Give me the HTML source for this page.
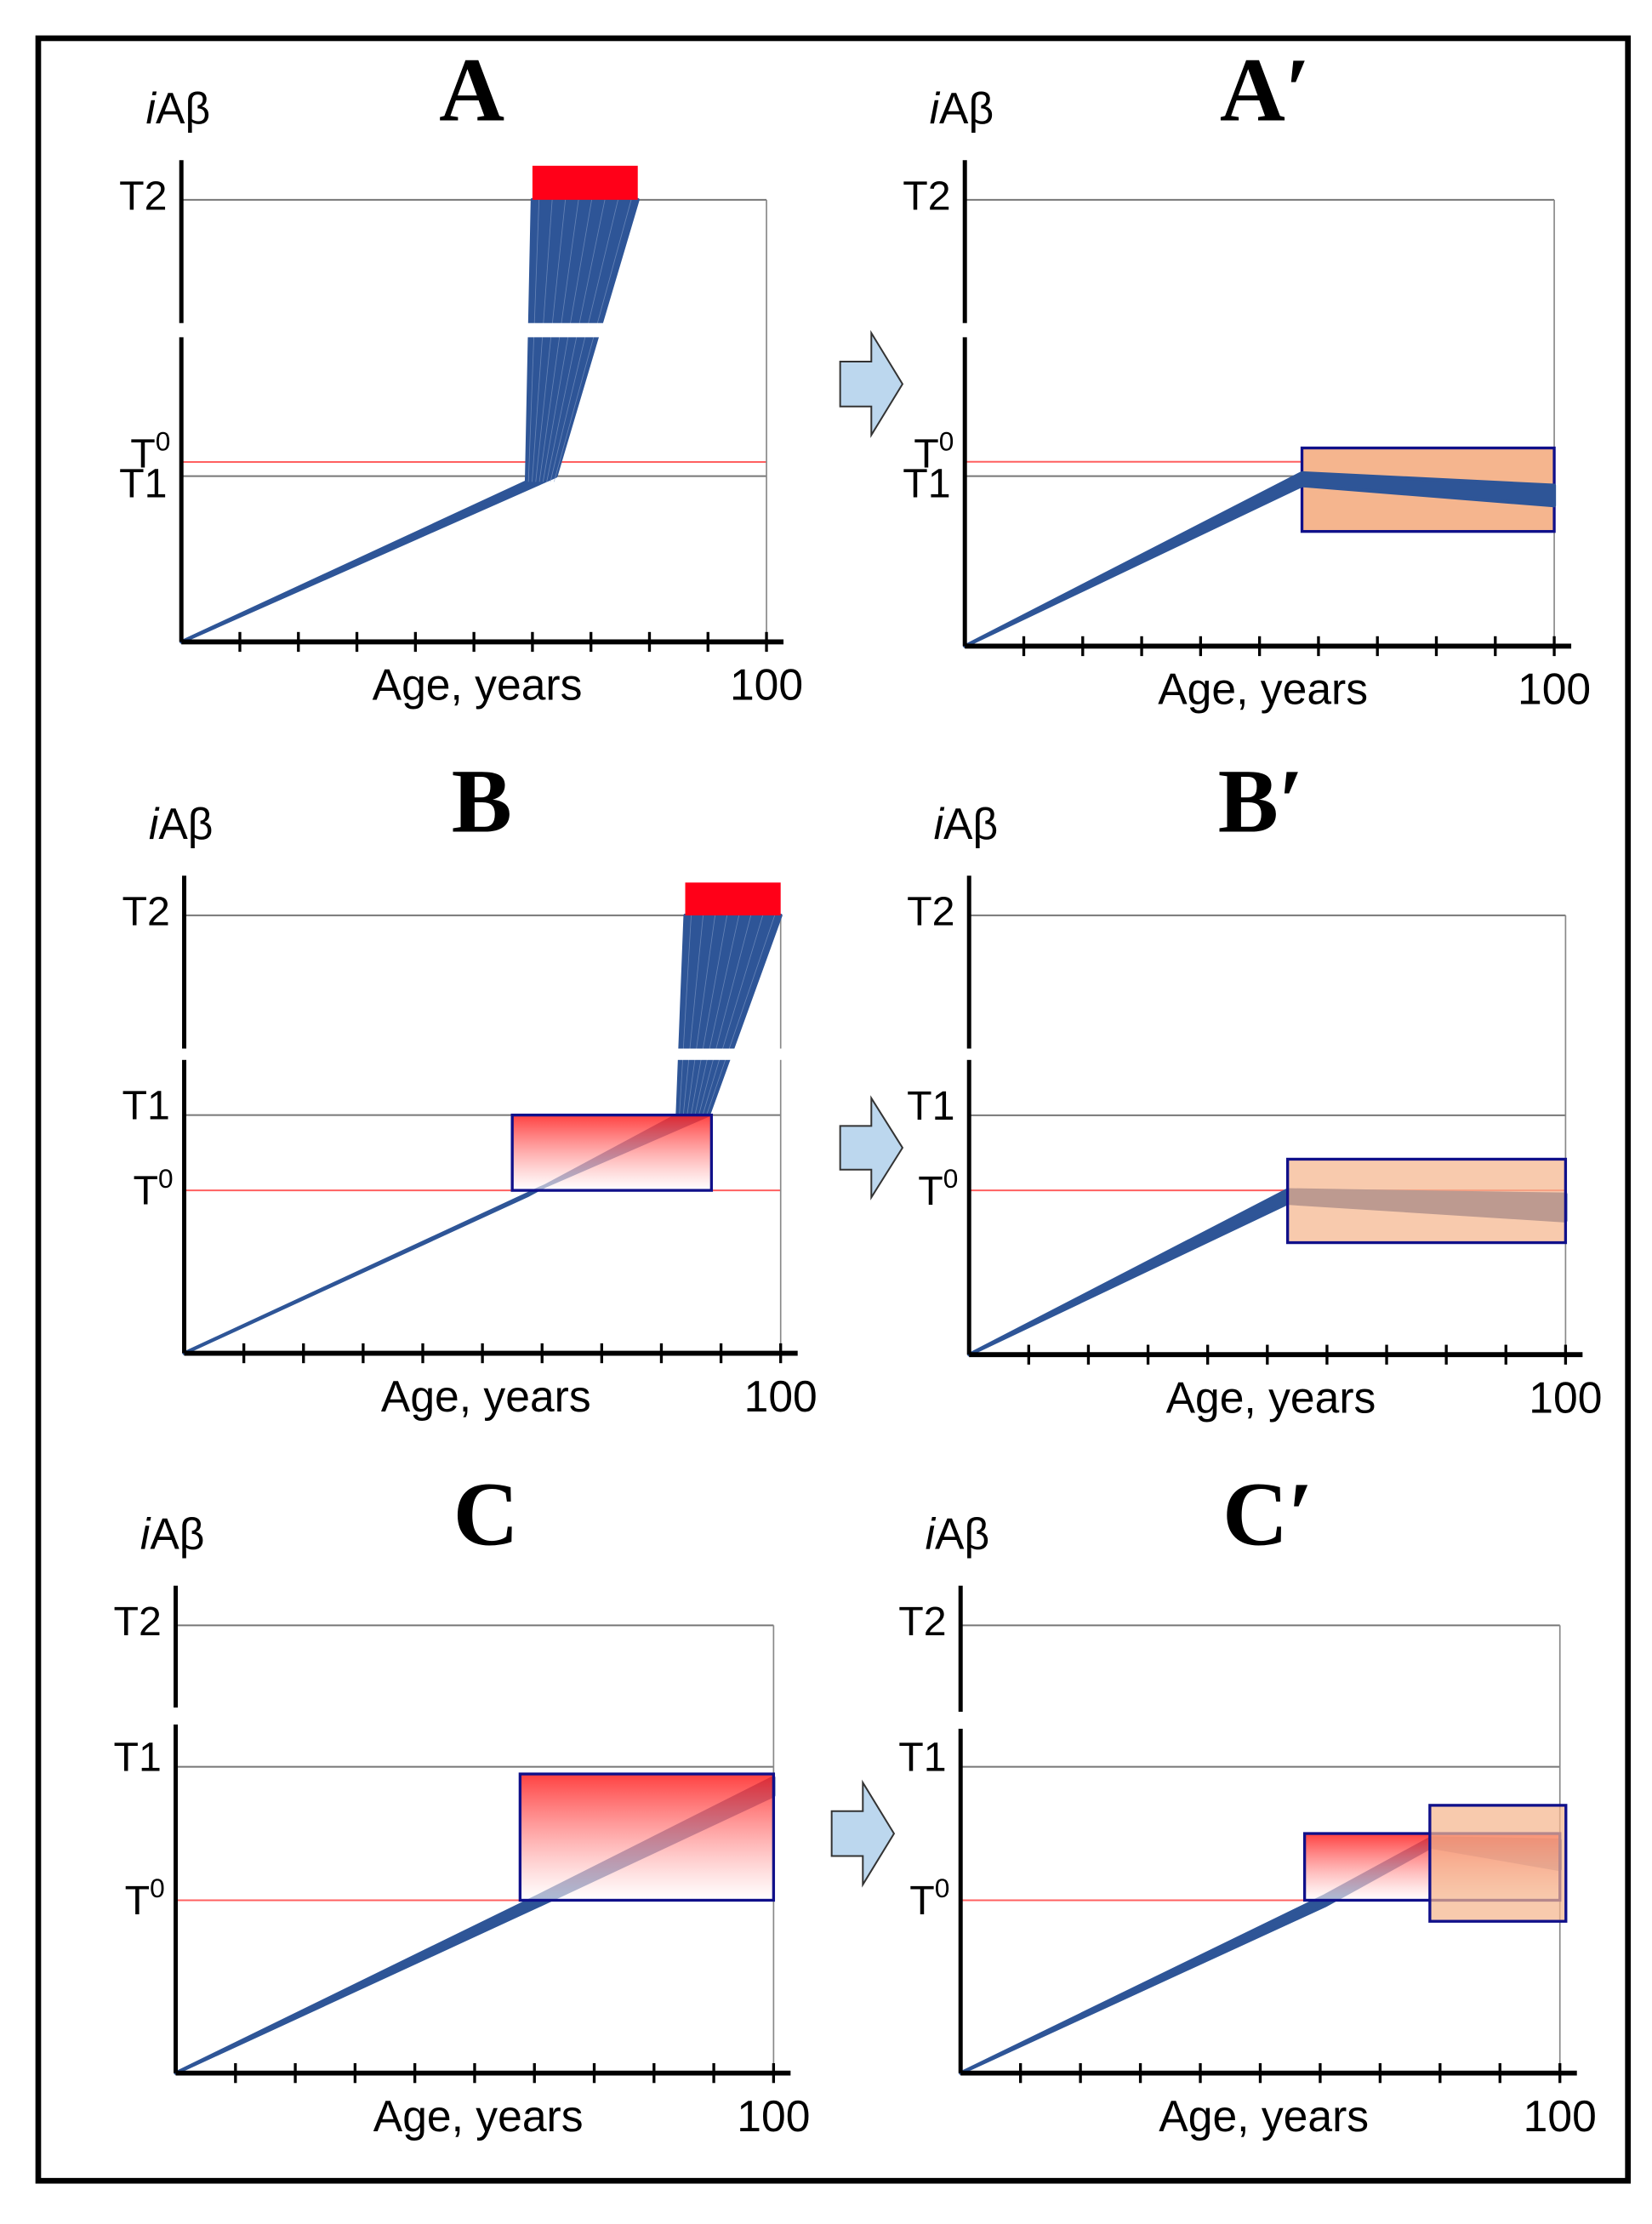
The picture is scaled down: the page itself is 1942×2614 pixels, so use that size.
<!DOCTYPE html>
<html><head><meta charset="utf-8">
<style>
html,body{margin:0;padding:0;background:#fff;}
svg{display:block;}
text{font-family:"Liberation Sans Narrow","Liberation Sans",sans-serif;fill:#000;}
.big{font-family:"Liberation Serif",serif;font-weight:bold;}
</style></head>
<body>
<svg id="fig" width="1942" height="2614" viewBox="0 0 1166 1569.5" xmlns="http://www.w3.org/2000/svg">
<defs>
<linearGradient id="redgrad" x1="0" y1="0" x2="0" y2="1">
<stop offset="0" stop-color="#ff2020" stop-opacity="0.85"/>
<stop offset="1" stop-color="#ffffff" stop-opacity="0.6"/>
</linearGradient>
</defs>
<rect x="27" y="27" width="1122" height="1512" fill="none" stroke="#000" stroke-width="4"/>
<g id="panels"></g>
</svg>
<script>
// Shared axis ticks (ages)
const tickAges = [10,20,30,40,50,60,70,80,90,100];
const thresholdNames = ["T2","T1","T0"];
// Panel layouts (pixel frame) – not data
const frames = {
 A:{ox:128,oy:453,rx:541,ty:141,gap:[228,238],lx:333,ly:85,label:"A"},
 Ap:{ox:681,oy:456,rx:1097,ty:141,gap:[228,238],lx:893,ly:85,label:"A\u2032"},
 B:{ox:130,oy:955,rx:551,ty:646,gap:[740,748],lx:340,ly:587,label:"B"},
 Bp:{ox:684,oy:956,rx:1105,ty:646,gap:[740,748],lx:890,ly:587,label:"B\u2032"},
 C:{ox:124,oy:1463,rx:546,ty:1147,gap:[1205,1217],lx:343,ly:1090,label:"C"},
 Cp:{ox:678,oy:1463,rx:1101,ty:1147,gap:[1208,1220],lx:895,ly:1090,label:"C\u2032"}
};
// Threshold levels (T2=100 scale) per panel: [T2, T1, T0]
const levelsA=[100,37.5,40.7], levelsAp=[100,38.1,41.3];
const levelsB=[100,54.4,37.2], levelsBp=[100,54.5,37.4];
const levelsC=[100,68.4,38.6], levelsCp=[100,68.4,38.6];
// Trajectory points (age, level) – lower and upper edges of each band
const pathA_lo=[[0,0],[59,36.2],[60,100]], pathA_hi=[[0,0],[64,37.5],[78,100]];
const pathAp_lo=[[0,0],[57.2,36.0],[100,31.5]], pathAp_hi=[[0,0],[57.2,38.8],[100,36]];
const pathB_lo=[[0,0],[57.5,36.0],[82.7,54.4],[84,100]], pathB_hi=[[0,0],[59.5,37.6],[87.9,54.4],[100,100]];
const pathBp_lo=[[0,0],[53.4,34.5],[100,30.5]], pathBp_hi=[[0,0],[53.4,37.5],[100,36.5]];
const pathC_lo=[[0,0],[60.7,37.4],[100,62]], pathC_hi=[[0,0],[60.7,39.6],[100,66]];
const pathCp_lo=[[0,0],[60.8,37.4],[78.5,50.5],[100,45.5]], pathCp_hi=[[0,0],[60.8,39.6],[78.5,52.5],[100,52]];
// Red overflow blocks [ageStart, ageEnd, levelBottom, levelTop]
const redA=[60,78,100,107.7], redB=[84,100,100,107.5];
// Gradient (red) boxes [ageStart, ageEnd, levelBottom, levelTop]
const gradB=[55,88.4,37.2,54.4], gradC=[57.6,100,38.6,66.8], gradCp=[57.4,100,38.6,53.5];
// Orange (treatment) boxes
const orangeAp=[57.2,100,25.7,44.4], orangeBp=[53.4,100,25.5,44.5], orangeCp=[78.3,101,33.9,59.8];

const NS="http://www.w3.org/2000/svg";
const root=document.getElementById('panels');
function mk(tag,attrs,parent){const e=document.createElementNS(NS,tag);for(const k in attrs)e.setAttribute(k,attrs[k]);(parent||root).appendChild(e);return e;}
function scales(f){return {x:a=>f.ox+a/100*(f.rx-f.ox), y:v=>f.oy-v/100*(f.oy-f.ty)};}

function box(g,s,b,fill,stroke,op,name){
 const r=mk('rect',{x:s.x(b[0]),y:s.y(b[3]),width:s.x(b[1])-s.x(b[0]),height:s.y(b[2])-s.y(b[3]),fill:fill,stroke:stroke,'stroke-width':2,'fill-opacity':op},g);
 
 
}
function band(g,s,lo,hi,name){
 const pts=lo.map(p=>s.x(p[0])+','+s.y(p[1])).concat(hi.slice().reverse().map(p=>s.x(p[0])+','+s.y(p[1])));
 const p=mk('polygon',{points:pts.join(' '),fill:'#2e5597',stroke:'#2e5597','stroke-width':2.5,'stroke-linejoin':'round'},g);
 
 
}
function panel(key,levels,lo,hi,extra){
 const f=frames[key], s=scales(f);
 const g=mk('g',{});
 
 
 const tcol=['#777','#777','#ff6060'];
 levels.forEach((v,i)=>{
  const l=mk('line',{x1:f.ox,x2:s.x(100),y1:s.y(v),y2:s.y(v),stroke:tcol[i],'stroke-width':1.2},g);
  
  
 });
 const rv=mk('line',{x1:s.x(100),x2:s.x(100),y1:s.y(100),y2:f.oy,stroke:'#888','stroke-width':1},g);
 
 
 if(extra.orangeUnder) box(g,s,extra.orangeUnder,'#f5b58e','#10108a',1,'treatment-box');
 band(g,s,lo,hi,'trajectory-band');
 const n=lo.length;
 if(extra.fan){
  for(let i=0;i<8;i++){const t=(i+0.5)/8; const a0=lo[n-2][0]+(hi[n-2][0]-lo[n-2][0])*t, a1=lo[n-1][0]+(hi[n-1][0]-lo[n-1][0])*t;
   const l=mk('line',{x1:s.x(a0),y1:s.y(lo[n-2][1]),x2:s.x(a1),y2:s.y(100),stroke:'#8aa2cc','stroke-width':0.5,'stroke-opacity':0.6},g);
   
   }
 }
 if(extra.red) box(g,s,extra.red,'#ff0018','none',1,'overflow-block');
 if(extra.grad) box(g,s,extra.grad,'url(#redgrad)','#10108a',1,'risk-gradient-box');
 if(extra.orangeOver) box(g,s,extra.orangeOver,'#f5b58e','#10108a',0.72,'treatment-box');
 const ya=mk('line',{x1:f.ox,x2:f.ox,y1:f.ty-28,y2:f.oy,stroke:'#000','stroke-width':3},g);
 
 
 const gp=mk('rect',{x:f.ox-3,y:f.gap[0],width:6,height:f.gap[1]-f.gap[0],fill:'#fff'},g);
 
 
 if(extra.fan){
  const fg=mk('rect',{x:s.x(lo[n-2][0])-4,y:f.gap[0],width:s.x(hi[n-1][0])-s.x(lo[n-2][0])+8,height:f.gap[1]-f.gap[0],fill:'#fff'},g);
  
  
 }
 const xa=mk('line',{x1:f.ox,x2:f.rx+12,y1:f.oy,y2:f.oy,stroke:'#000','stroke-width':3.5},g);
 
 
 tickAges.forEach(a=>{const t=mk('line',{x1:s.x(a),x2:s.x(a),y1:f.oy-7,y2:f.oy+7,stroke:'#000','stroke-width':2},g);
  
  });
 const txt=(x,y,str,size,name,anchor,cls)=>{const t=mk('text',{x:x,y:y,'font-size':size,'text-anchor':anchor||'start'},g);if(cls)t.setAttribute('class',cls);t.textContent=str;return t;};
 txt(s.x(52)-80,f.oy+41,'Age, years',31,'x-axis-title','start');
 txt(s.x(100),f.oy+41,'100',31,'x-tick-label-100','middle');
 const ia=mk('text',{x:f.ox-25,y:f.ty-54,'font-size':31},g);
 
 
 ia.innerHTML='<tspan font-style="italic">i</tspan>Aβ';
 txt(f.lx,f.ly,f.label,64,'panel-label','middle','big');
 txt(f.ox-10,s.y(levels[0])+7,'T2',29,'t2-label','end');
 txt(f.ox-10,s.y(levels[1])+(key[0]==='A'?15:3),'T1',29,'t1-label','end');
 const t0=mk('text',{x:f.ox-36,y:s.y(levels[2])+(key[0]==='A'?4:10),'font-size':29},g);
 
 
 t0.innerHTML='T<tspan font-size="19" dy="-12">0</tspan>';
}
panel('A',levelsA,pathA_lo,pathA_hi,{red:redA,fan:true});
panel('Ap',levelsAp,pathAp_lo,pathAp_hi,{orangeUnder:orangeAp});
panel('B',levelsB,pathB_lo,pathB_hi,{red:redB,fan:true,grad:gradB});
panel('Bp',levelsBp,pathBp_lo,pathBp_hi,{orangeOver:orangeBp});
panel('C',levelsC,pathC_lo,pathC_hi,{grad:gradC});
panel('Cp',levelsCp,pathCp_lo,pathCp_hi,{grad:gradCp,orangeOver:orangeCp});
[[593,235,307],[593,775,845],[587,1258,1330]].forEach((a,i)=>{
 const [x,y1,y2]=a, h=y2-y1, m=(y1+y2)/2;
 const p=mk('polygon',{points:`${x},${m-h*0.22} ${x+22},${m-h*0.22} ${x+22},${y1} ${x+44},${m} ${x+22},${y2} ${x+22},${m+h*0.22} ${x},${m+h*0.22}`,fill:'#bcd7ee',stroke:'#333','stroke-width':1.2});
 
 
});
</script>
</body></html>
